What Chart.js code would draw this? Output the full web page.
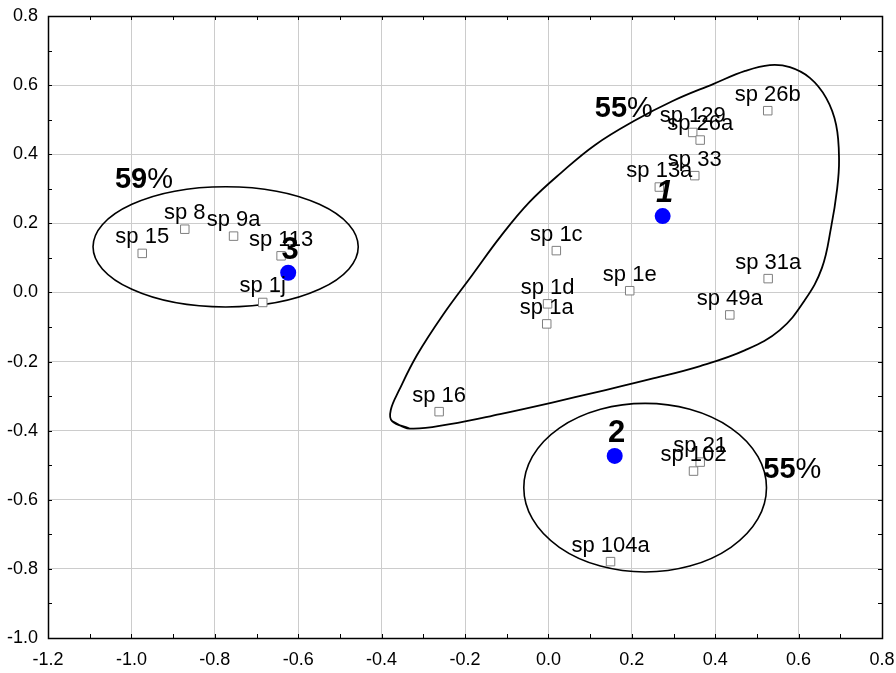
<!DOCTYPE html>
<html>
<head>
<meta charset="utf-8">
<script src="https://cdn.jsdelivr.net/npm/chart.js@4/dist/chart.umd.min.js"></script>
<style>
  html, body { margin: 0; padding: 0; background: #ffffff; }
  #wrap { width: 896px; height: 673px; }
</style>
</head>
<body>
<div id="wrap"><canvas id="c" width="896" height="673"></canvas></div>
<script>
// Species scores on the first two ordination axes
const speciesNames = ['sp 15', 'sp 8', 'sp 9a', 'sp 113', 'sp 1j',
  'sp 26b', 'sp 129', 'sp 26a', 'sp 33', 'sp 13a',
  'sp 1c', 'sp 1d', 'sp 1a', 'sp 1e', 'sp 31a', 'sp 49a', 'sp 16',
  'sp 21', 'sp 102', 'sp 104a'];
const speciesX = [-0.974, -0.872, -0.755, -0.641, -0.685,
  0.526, 0.346, 0.364, 0.351, 0.266,
  0.019, -0.002, -0.004, 0.195, 0.527, 0.435, -0.262,
  0.364, 0.348, 0.149];
const speciesY = [0.113, 0.183, 0.163, 0.106, -0.029,
  0.526, 0.463, 0.441, 0.338, 0.305,
  0.121, -0.033, -0.091, 0.005, 0.040, -0.065, -0.345,
  -0.491, -0.517, -0.779];

// Group centroids
const groupNames = ['1', '2', '3'];
const groupX = [0.274, 0.159, -0.624];
const groupY = [0.221, -0.473, 0.057];

// Outline around group 1 (closed; first two vertices repeated at the end)
const hullX = [-0.375, -0.333, -0.236, -0.116, 0.004, 0.124, 0.244, 0.364, 0.472, 0.555,
  0.615, 0.656, 0.678, 0.692, 0.697, 0.690, 0.666, 0.627, 0.579, 0.531,
  0.472, 0.395, 0.298, 0.205, 0.112, 0.033, -0.045, -0.114, -0.183, -0.253,
  -0.315, -0.358, -0.378, -0.375, -0.333];
const hullY = [-0.372, -0.394, -0.381, -0.352, -0.320, -0.286, -0.251, -0.213, -0.167, -0.109,
  -0.022, 0.071, 0.189, 0.296, 0.383, 0.485, 0.563, 0.621, 0.652, 0.658,
  0.641, 0.603, 0.554, 0.496, 0.427, 0.349, 0.262, 0.163, 0.050, -0.065,
  -0.181, -0.283, -0.340, -0.372, -0.394];

// Ellipses around groups 3 and 2 (centre, half-widths)
const ellipseCX = [-0.774, 0.232];
const ellipseCY = [0.132, -0.565];
const ellipseRX = [0.318, 0.291];
const ellipseRY = [0.174, 0.244];

// Group percentages
const pctValues = ['59', '55', '55'];
const pctX = [-0.970, 0.181, 0.585];
const pctY = [0.331, 0.536, -0.508];

// Axis tick labels
const xTickLabels = ['-1.2', '-1.0', '-0.8', '-0.6', '-0.4', '-0.2', '0.0', '0.2', '0.4', '0.6', '0.8'];
const yTickLabels = ['-1.0', '-0.8', '-0.6', '-0.4', '-0.2', '0.0', '0.2', '0.4', '0.6', '0.8'];

const FONT = '"Liberation Sans", Arial, sans-serif';

const speciesPts = speciesX.map((x, i) => ({ x, y: speciesY[i] }));
const groupPts = groupX.map((x, i) => ({ x, y: groupY[i] }));
const hullPts = hullX.map((x, i) => ({ x, y: hullY[i] }));

// Ellipses behind the points
const ellipsePlugin = {
  id: 'ellipses',
  beforeDatasetsDraw(chart) {
    const { ctx, scales: { x, y } } = chart;
    ctx.save();
    ctx.strokeStyle = '#000000';
    ctx.lineWidth = 1.6;
    for (let i = 0; i < ellipseCX.length; i++) {
      const cx = x.getPixelForValue(ellipseCX[i]);
      const cy = y.getPixelForValue(ellipseCY[i]);
      const rx = Math.abs(x.getPixelForValue(ellipseCX[i] + ellipseRX[i]) - cx);
      const ry = Math.abs(y.getPixelForValue(ellipseCY[i] + ellipseRY[i]) - cy);
      ctx.beginPath();
      ctx.ellipse(cx, cy, rx, ry, 0, 0, Math.PI * 2);
      ctx.stroke();
    }
    ctx.restore();
  }
};

// Frame with inward tick marks on all four sides
const framePlugin = {
  id: 'frame',
  afterDraw(chart) {
    const { ctx, chartArea: a, scales: { x, y } } = chart;
    ctx.save();
    ctx.strokeStyle = '#000000';
    ctx.lineWidth = 1;
    const tl = 4;
    ctx.beginPath();
    for (let k = 0; k <= 20; k++) {
      const px = Math.round(x.getPixelForValue(x.min + k * 0.1)) + 0.5;
      ctx.moveTo(px, a.bottom); ctx.lineTo(px, a.bottom - tl);
      ctx.moveTo(px, a.top); ctx.lineTo(px, a.top + tl);
    }
    for (let k = 0; k <= 18; k++) {
      const py = Math.round(y.getPixelForValue(y.min + k * 0.1)) + 0.5;
      ctx.moveTo(a.left, py); ctx.lineTo(a.left + tl, py);
      ctx.moveTo(a.right, py); ctx.lineTo(a.right - tl, py);
    }
    ctx.stroke();
    ctx.lineWidth = 1.5;
    ctx.strokeRect(Math.round(a.left) + 0.5, Math.round(a.top) + 0.5,
      Math.round(a.right - a.left), Math.round(a.bottom - a.top));
    ctx.restore();
  }
};

// Text labels for species, centroids and group percentages
const labelPlugin = {
  id: 'labels',
  afterDatasetsDraw(chart) {
    const { ctx, scales: { x, y } } = chart;
    ctx.save();
    ctx.fillStyle = '#000000';
    ctx.textAlign = 'center';
    ctx.textBaseline = 'alphabetic';

    const sMeta = chart.getDatasetMeta(1);
    ctx.font = '22px ' + FONT;
    sMeta.data.forEach((el, i) => {
      ctx.fillText(speciesNames[i], el.x, el.y - 10);
    });

    const gMeta = chart.getDatasetMeta(2);
    gMeta.data.forEach((el, i) => {
      ctx.font = (groupNames[i] === '1' ? 'italic bold ' : 'bold ') + '31px ' + FONT;
      ctx.fillText(groupNames[i], el.x + 2, el.y - 14);
    });

    ctx.textAlign = 'left';
    for (let i = 0; i < pctValues.length; i++) {
      const px = x.getPixelForValue(pctX[i]);
      const py = y.getPixelForValue(pctY[i]);
      ctx.font = 'bold 29px ' + FONT;
      const w1 = ctx.measureText(pctValues[i]).width;
      ctx.font = '29px ' + FONT;
      const w2 = ctx.measureText('%').width;
      const left = px - (w1 + w2) / 2;
      ctx.font = 'bold 29px ' + FONT;
      ctx.fillText(pctValues[i], left, py + 10);
      ctx.font = '29px ' + FONT;
      ctx.fillText('%', left + w1, py + 10);
    }
    ctx.restore();
  }
};

new Chart(document.getElementById('c'), {
  type: 'scatter',
  data: {
    datasets: [
      {
        label: 'outline',
        data: hullPts,
        showLine: true,
        borderColor: '#000000',
        borderWidth: 1.8,
        tension: 0.4,
        pointRadius: 0,
        fill: false
      },
      {
        label: 'species',
        data: speciesPts,
        pointStyle: 'rect',
        pointRadius: 6,
        pointBackgroundColor: '#ffffff',
        pointBorderColor: '#7f7f7f',
        pointBorderWidth: 1
      },
      {
        label: 'groups',
        data: groupPts,
        pointStyle: 'circle',
        pointRadius: 8,
        pointBackgroundColor: '#0000ff',
        pointBorderColor: '#0000ff',
        pointBorderWidth: 0
      }
    ]
  },
  options: {
    responsive: false,
    animation: false,
    events: [],
    layout: { padding: { top: 16, right: 14, left: 0, bottom: 0 } },
    plugins: { legend: { display: false }, tooltip: { enabled: false } },
    scales: {
      x: {
        type: 'linear',
        min: -1.2, max: 0.8,
        afterFit(s) { s.height = 35; s.paddingLeft = 0; s.paddingRight = 0; },
        ticks: {
          stepSize: 0.2,
          padding: 11,
          color: '#000000',
          font: { family: FONT, size: 18 },
          callback: (v, i) => xTickLabels[i]
        },
        grid: { color: '#cccccc', lineWidth: 1, drawTicks: false },
        border: { display: false }
      },
      y: {
        type: 'linear',
        min: -1.0, max: 0.8,
        afterFit(s) { s.width = 48; s.paddingTop = 0; s.paddingBottom = 0; },
        ticks: {
          stepSize: 0.2,
          padding: 10,
          color: '#000000',
          font: { family: FONT, size: 18 },
          callback: (v, i) => yTickLabels[i]
        },
        grid: { color: '#cccccc', lineWidth: 1, drawTicks: false },
        border: { display: false }
      }
    }
  },
  plugins: [ellipsePlugin, labelPlugin, framePlugin]
});
</script>
</body>
</html>
